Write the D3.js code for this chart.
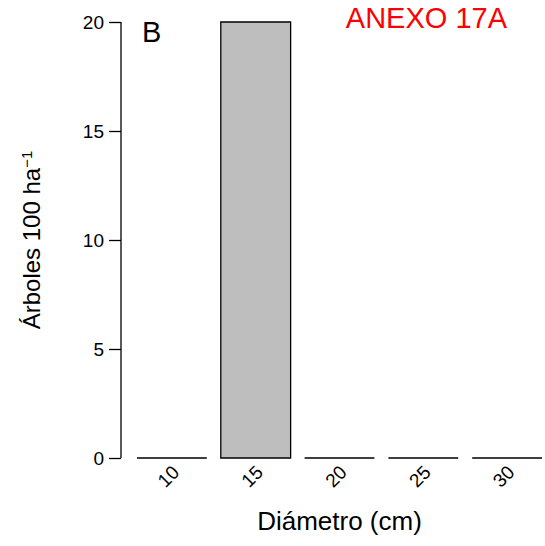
<!DOCTYPE html>
<html>
<head>
<meta charset="utf-8">
<script src="https://cdn.jsdelivr.net/npm/d3@7"></script>
<style>
  html, body { margin: 0; padding: 0; background: #fff; }
  text { font-family: "Liberation Sans", Arial, sans-serif; }
</style>
</head>
<body>
<svg id="chart" width="545" height="546"></svg>
<script>
const categories = ["10", "15", "20", "25", "30"];
const values = [0, 20, 0, 0, 0];
const yTicks = [0, 5, 10, 15, 20];
const panelLabel = "B";
const annexLabel = "ANEXO 17A";
const xTitle = "Diámetro (cm)";

const svg = d3.select("#chart");

const x = d3.scaleBand().domain(categories).range([137, 542]).paddingInner(1/6).paddingOuter(0);
const y = d3.scaleLinear().domain([0, 20]).range([458, 22]);

// Y axis
const yAxis = d3.axisLeft(y).tickValues(yTicks).tickSize(12).tickPadding(5).tickSizeOuter(0);
const gy = svg.append("g").attr("transform", "translate(121,0)").call(yAxis);
gy.select(".domain").attr("stroke", "#000").attr("stroke-width", 1.3).attr("d", `M0,${y(0)}V${y(20)}`);
gy.selectAll(".tick line").attr("stroke", "#000").attr("stroke-width", 1.3);
gy.selectAll(".tick text").attr("fill", "#000").style("font-size", "19px")
  .style("font-family", '"Liberation Sans", Arial, sans-serif');

// Bars (drawn as closed paths so zero-height bars show as a line)
svg.append("g").selectAll("path").data(categories).join("path")
  .attr("d", (d, i) => {
    const x0 = x(d), x1 = x(d) + x.bandwidth();
    const y0 = y(0), y1 = y(values[i]);
    return `M${x0},${y0}V${y1}H${x1}V${y0}Z`;
  })
  .attr("fill", "#bebebe")
  .attr("stroke", "#000")
  .attr("stroke-width", 1.3);

// X tick labels (rotated)
svg.append("g").selectAll("text").data(categories).join("text")
  .attr("transform", d => `translate(${x(d) + x.bandwidth() / 2 + 4},469) rotate(-45)`)
  .attr("text-anchor", "end")
  .attr("dominant-baseline", "central")
  .style("font-size", "19px")
  .text(d => d);

// X title
svg.append("text")
  .attr("x", (137 + 542) / 2)
  .attr("y", 530)
  .attr("text-anchor", "middle")
  .style("font-size", "26px")
  .text(xTitle);

// Y title
const yt = svg.append("text")
  .attr("transform", `translate(40,${(22 + 458) / 2}) rotate(-90)`)
  .attr("text-anchor", "middle")
  .style("font-size", "24px");
yt.append("tspan").text("Árboles 100 ha");
yt.append("tspan").attr("dy", "-0.55em").style("font-size", "15px").text("\u22121");

// Panel label
svg.append("text").attr("x", 142).attr("y", 42).style("font-size", "29px").text(panelLabel);

// Annex label
svg.append("text").attr("x", 507).attr("y", 28).attr("text-anchor", "end")
  .attr("fill", "#ff0000").style("font-size", "29px").text(annexLabel);
</script>
</body>
</html>
